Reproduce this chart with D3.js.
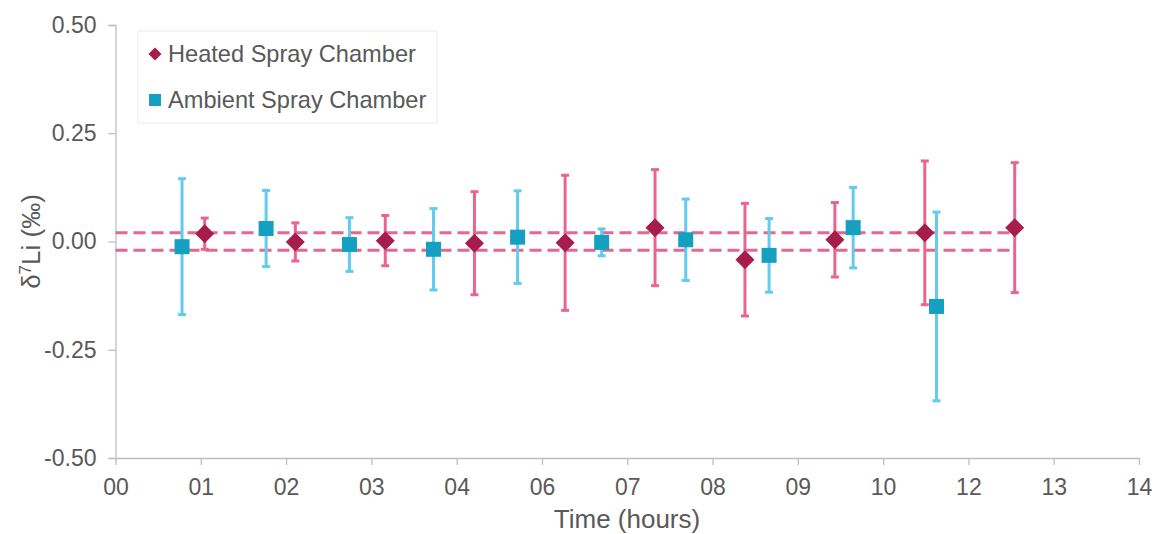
<!DOCTYPE html>
<html>
<head>
<meta charset="utf-8">
<script src="https://cdn.jsdelivr.net/npm/d3@7"></script>
<style>
  html, body { margin: 0; padding: 0; background: #fff; }
  svg text { font-family: "Liberation Sans", Arial, sans-serif; fill: #595959; }
</style>
</head>
<body>
<svg id="chart" width="1156" height="534"></svg>
<script>
// ---- data ----
const heatedTime = [1.22, 2.46, 3.69, 4.91, 6.15, 7.38, 8.61, 9.84, 11.07, 12.30];
const heatedValue = [0.018, -0.001, 0.002, -0.004, -0.003, 0.032, -0.042, 0.004, 0.020, 0.032];
const heatedError = [0.036, 0.044, 0.058, 0.119, 0.156, 0.134, 0.130, 0.086, 0.166, 0.150];

const ambientTime = [0.91, 2.06, 3.20, 4.35, 5.50, 6.65, 7.80, 8.94, 10.09, 11.23];
const ambientValue = [-0.012, 0.030, -0.007, -0.018, 0.010, -0.002, 0.004, -0.032, 0.032, -0.150];
const ambientError = [0.157, 0.088, 0.062, 0.094, 0.107, 0.031, 0.094, 0.085, 0.093, 0.218];

const limitLines = [0.02, -0.02];
const xTickLabels = ["00", "01", "02", "03", "04", "06", "07", "08", "09", "10", "12", "13", "14"];
const yTicks = [-0.50, -0.25, 0.00, 0.25, 0.50];
const seriesNames = ["Heated Spray Chamber", "Ambient Spray Chamber"];

(function () {
// ---- layout ----
const svg = d3.select("#chart");
const mLeft = 115.5, mRight = 1139, mTop = 25, mBottom = 458;
const xMax = 14;
const x = d3.scaleLinear().domain([0, xMax]).range([mLeft, mRight]);
const y = d3.scaleLinear().domain([-0.5, 0.5]).range([mBottom, mTop]);

const axisColor = "#bfbfbf";
const pinkLine = "#e8668e";
const heatedColor = "#a61c4b";
const ambientColor = "#159fc0";
const ambientErr = "#62cbee";
const fontFam = "Liberation Sans, Arial, sans-serif";

// y axis
const yAxis = d3.axisLeft(y).tickValues(yTicks).tickFormat(d => d.toFixed(2)).tickSize(7).tickPadding(12);
const gy = svg.append("g").attr("transform", `translate(${mLeft},0)`).call(yAxis);
gy.select(".domain").attr("stroke", axisColor).attr("stroke-width", 1.3);
gy.selectAll(".tick line").attr("stroke", axisColor).attr("stroke-width", 1.3);
gy.selectAll(".tick text").style("font-size", "23px").attr("fill", "#595959").style("font-family", fontFam);

// x axis
const xTickVals = xTickLabels.map((d, i) => i * xMax / (xTickLabels.length - 1));
const xAxis = d3.axisBottom(x).tickValues(xTickVals).tickFormat((d, i) => xTickLabels[i]).tickSize(7).tickSizeOuter(0).tickPadding(14);
const gx = svg.append("g").attr("transform", `translate(0,${mBottom})`).call(xAxis);
gx.select(".domain").attr("stroke", axisColor).attr("stroke-width", 1.3);
gx.selectAll(".tick line").attr("stroke", axisColor).attr("stroke-width", 1.3);
gx.selectAll(".tick text").style("font-size", "23px").attr("fill", "#595959").style("font-family", fontFam);

// axis titles
svg.append("text").attr("x", 627).attr("y", 528)
  .attr("text-anchor", "middle").style("font-size", "26px").text("Time (hours)");
const yt = svg.append("text").attr("transform", `translate(40,${y(0)}) rotate(-90)`)
  .attr("text-anchor", "middle").style("font-size", "26px");
yt.append("tspan").text("δ");
yt.append("tspan").attr("dy", -9).style("font-size", "17px").text("7");
yt.append("tspan").attr("dy", 9).text("Li (‰)");

// dashed limit lines
const lastT = d3.max(heatedTime.concat(ambientTime));
svg.append("g").selectAll("line").data(limitLines).join("line")
  .attr("x1", x(0)).attr("x2", x(lastT))
  .attr("y1", d => y(d)).attr("y2", d => y(d))
  .attr("stroke", pinkLine).attr("stroke-width", 3).attr("stroke-dasharray", "12,6");

function errorBars(times, vals, errs, color) {
  const g = svg.append("g");
  const data = times.map((t, i) => ({ t, v: vals[i], e: errs[i] }));
  g.selectAll("line.v").data(data).join("line").attr("class", "v")
    .attr("x1", d => x(d.t)).attr("x2", d => x(d.t))
    .attr("y1", d => y(d.v + d.e)).attr("y2", d => y(d.v - d.e))
    .attr("stroke", color).attr("stroke-width", 3);
  ["capT", "capB"].forEach(k => {
    g.selectAll("line." + k).data(data).join("line").attr("class", k)
      .attr("x1", d => x(d.t) - 4).attr("x2", d => x(d.t) + 4)
      .attr("y1", d => y(k === "capT" ? d.v + d.e : d.v - d.e))
      .attr("y2", d => y(k === "capT" ? d.v + d.e : d.v - d.e))
      .attr("stroke", color).attr("stroke-width", 3);
  });
}

errorBars(ambientTime, ambientValue, ambientError, ambientErr);
errorBars(heatedTime, heatedValue, heatedError, pinkLine);

svg.append("g").selectAll("rect").data(ambientTime.map((t, i) => ({ t, v: ambientValue[i] }))).join("rect")
  .attr("x", d => x(d.t) - 7.5).attr("y", d => y(d.v) - 7.5)
  .attr("width", 15).attr("height", 15).attr("fill", ambientColor);

const diamond = (cx, cy, r) => `M${cx},${cy - r}L${cx + r},${cy}L${cx},${cy + r}L${cx - r},${cy}Z`;
svg.append("g").selectAll("path").data(heatedTime.map((t, i) => ({ t, v: heatedValue[i] }))).join("path")
  .attr("d", d => diamond(x(d.t), y(d.v), 9.5)).attr("fill", heatedColor);

// legend
const lg = svg.append("g");
lg.append("rect").attr("x", 138).attr("y", 31).attr("width", 299).attr("height", 92)
  .attr("fill", "#fff").attr("stroke", "#ebebeb").attr("stroke-width", 1);
lg.append("path").attr("d", diamond(155, 54, 6.5)).attr("fill", heatedColor);
lg.append("rect").attr("x", 149).attr("y", 94).attr("width", 12).attr("height", 12).attr("fill", ambientColor);
lg.append("text").attr("x", 168).attr("y", 62).style("font-size", "23.6px").text(seriesNames[0]);
lg.append("text").attr("x", 168).attr("y", 108).style("font-size", "23.6px").text(seriesNames[1]);
})();
</script>
</body>
</html>
